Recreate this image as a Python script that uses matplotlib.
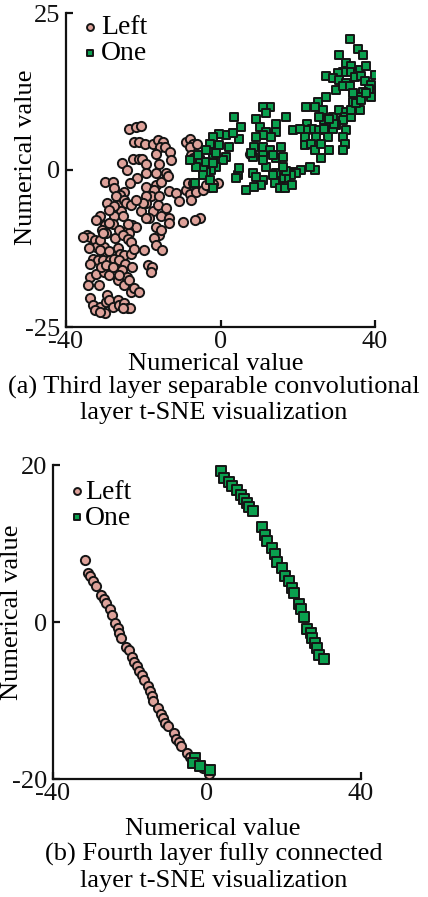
import matplotlib
matplotlib.use("Agg")
import matplotlib.pyplot as plt
import numpy as np

plt.rcParams['font.family'] = ['Liberation Serif', 'DejaVu Serif']
plt.rcParams['mathtext.fontset'] = 'stix'

# ---------------- (a) third layer ----------------
a_left_x = [-23.6, -22.0, -20.6, -22.5, -21.2, -19.6, -17.5, -16.2, -14.8, -15.6, -14.4, -13.0,
            -22.7, -21.2, -20.3, -19.3, -25.5, -24.2, -16.8, -16.0, -12.9, -19.3, -16.7, -14.2,
            -21.7, -23.4, -29.8, -27.9, -27.7, -19.3, -16.7, -15.4, -13.6, -24.9, -26.0, -27.0,
            -13.4, -11.5, -10.8, -17.1, -18.0, -15.8, -8.9, -7.9, -6.3, -7.6,
            -8.9, -7.9, -7.2, -8.0, -6.0, -7.6, -7.2, -8.5, -7.2, -4.6, -2.8, -0.7,
            -5.2, -6.7, -9.8, -29.4, -26.6, -24.9, -24.4, -25.7, -27.5, -27.9, -29.8, -30.8,
            -20.6, -19.3, -17.5, -16.2, -14.1, -15.4, -13.4, -22.9, -21.9, -24.0, -23.6,
            -18.4, -19.3, -16.7, -16.0, -15.4, -17.1, -16.7, -15.2, -13.4,
            -34.6, -33.9, -32.6, -32.2, -34.1, -29.6, -28.8, -27.2, -30.1, -29.6,
            -26.2, -25.3, -24.0, -23.1, -31.3, -28.8, -26.6, -26.0, -24.9, -23.1, -22.3,
            -33.1, -31.8, -30.5, -28.6, -27.5, -26.2, -24.6, -22.9, -25.5, -24.3,
            -19.7, -18.8, -17.7, -18.0, -33.9, -33.7, -34.3, -31.5, -32.2, -30.1, -28.8,
            -26.6, -26.2, -24.9, -23.6, -23.1, -22.3, -21.2,
            -33.9, -33.1, -31.3, -29.6, -29.4, -28.8, -29.8, -27.9, -26.6, -26.2, -24.9,
            -24.0, -23.4, -25.3, -32.6, -31.3, 7.7, -3.7, -2.0, -19.3, -20.1, -23.1, -21.9,
            -27.5, -28.8, -31.3, -32.2, -25.3, -24.0, -31.3, -30.5, -35.7, -30.9, -29.6, -27.9]
a_left_y = [6.5, 6.8, 7.0, 4.5, 4.5, 4.1, 4.1, 4.8, 4.5, 3.7, 3.7, 2.9,
            1.7, 1.7, 1.7, 1.0, 1.1, 0.0, 2.5, 1.0, 1.6, -0.5, -0.5, -0.5,
            -1.3, -2.1, -1.9, -1.9, -2.9, -2.7, -2.4, -1.9, -1.0, -3.5, -4.0, -4.2,
            -3.3, -3.7, -4.9, -3.2, -4.2, -4.2, -3.2, -3.8, -3.5, -4.8,
            4.5, 4.9, 4.1, 3.6, 4.2, 2.4, 1.9, -2.1, -2.0, -3.2, -2.7, -2.1,
            -7.7, -8.0, -8.3, -5.3, -5.6, -4.8, -5.3, -6.6, -7.3, -8.6, -8.8, -9.6,
            -6.6, -5.3, -6.5, -5.6, -6.1, -7.4, -7.6, -8.8, -9.0, -9.6, -10.1,
            -7.7, -7.7, -9.0, -10.4, -9.6, -10.9, -11.9, -12.8, -8.5,
            -10.4, -10.7, -11.1, -12.2, -12.5, -10.1, -8.5, -10.9, -12.2, -13.3,
            -9.6, -10.4, -11.0, -11.4, -12.7, -12.9, -12.4, -13.3, -13.5, -13.3, -12.6,
            -14.1, -14.3, -14.3, -14.3, -14.1, -14.3, -14.9, -15.4, -15.9, -17.0,
            -12.7, -15.1, -15.5, -16.2, -14.9, -17.0, -18.3, -18.3, -16.5, -16.2, -16.7,
            -17.5, -16.7, -18.3, -17.5, -19.4, -18.8, -19.4,
            -20.4, -21.5, -21.8, -21.0, -19.9, -20.7, -22.8, -21.8, -20.7, -21.5, -21.2,
            -22.0, -22.0, -22.0, -22.3, -22.6, 2.5, -2.4, -2.2, -4.2, -5.3, -5.6, -4.8,
            -5.8, -6.4, -7.4, -8.0, -7.4, -8.6, -11.1, -10.1, -10.6, -15.4, -15.1, -15.4]

a_one_x = [33.4, 35.6, 36.9, 30.7,
           32.6, 33.9, 36.0, 37.7, 33.4, 31.6, 30.4, 34.7, 36.5, 39.9, 37.3, 39.0, 41.0, 38.4,
           39.0, 36.9, 35.6, 34.3,
           27.4, 29.1, 30.8, 32.6, 30.0, 31.7, 33.4, 27.4,
           25.3, 22.2, 24.4, 26.5, 29.1, 30.8, 32.6, 36.0, 32.2, 33.9, 31.7, 30.0, 29.1, 32.6,
           31.7, 32.2, 31.7, 26.9, 25.6,
           22.4, 23.7, 22.2, 25.6, 26.9, 27.8, 24.8, 21.8, 21.8, 23.5, 24.4, 26.1, 28.2, 26.1,
           24.4, 23.1, 20.9, 18.7, 20.5,
           18.7, 19.6, 18.3, 17.0, 15.7, 14.4, 17.0, 14.4, 14.4, 16.1, 15.7, 17.0, 14.4, 12.7,
           11.0, 11.8, 9.3, 10.1, 11.8, 14.4, 13.1, 11.0, 9.3, 8.8, 11.0, 12.7, 11.0, 13.6,
           16.1, 11.8, 11.0, 8.4, 8.0,
           11.0, 10.5, 13.6, 14.0, 15.3, 16.6, 18.6, 8.4, 9.2, 8.8, 6.6, 4.5, 4.1, 4.9,
           3.6, 5.4, 4.9, 2.3, 1.5, 3.2, -0.3, -2.0, -2.8, -0.3, 1.5, 0.6, -1.1, -2.4, -3.7,
           -4.6, -5.4, -6.3, -4.6, -2.8, -2.0, -6.7, -5.8, -3.7, -2.0, -1.1, -3.7, -2.0,
           -8.0, 29.5, 28.2, 33.9, 35.2, 34.3, 36.5, 37.7]
a_one_y = [20.9, 19.2, 18.3, 18.3,
           17.0, 16.5, 15.9, 16.6, 15.6, 15.6, 15.4, 14.8, 15.0, 15.2, 14.1, 13.6, 12.6, 12.9,
           11.7, 12.4, 11.7, 10.9,
           14.9, 14.6, 14.3, 13.8, 12.7, 13.3, 13.3, 11.7,
           10.9, 10.1, 10.1, 9.6, 8.5, 9.6, 9.3, 9.6, 8.5, 8.5, 8.0, 7.2, 6.6, 6.4,
           5.3, 4.2, 3.2, 8.0, 8.5,
           7.4, 6.6, 6.4, 6.4, 6.6, 5.3, 5.3, 5.3, 4.0, 4.2, 3.2, 4.2, 3.2, 1.9,
           0.0, 0.5, 0.0, 6.4, 6.6,
           -0.3, -0.5, -0.8, -1.3, -1.3, -1.9, -0.1, -0.5, 1.9, 2.1, 3.7, 8.5, 7.4, 10.1,
           10.1, 9.0, 8.2, 6.9, 6.1, 6.1, 5.3, 5.6, 5.3, 3.7, 3.7, 3.2, 2.4, 2.4,
           0.5, 0.5, 1.6, 2.1, 2.7,
           -1.6, -2.4, -0.8, -2.1, -2.9, -2.9, -2.4, -0.5, -1.1, -2.7, -3.2, -0.8, -1.3, 0.3,
           8.5, 6.9, 5.0, 3.7, 5.6, 5.9, 5.8, 5.3, 4.2, 4.0, 2.1, 1.6, 0.5, 0.0, -0.3,
           0.3, 1.6, 0.5, -0.8, -1.6, -2.9, -2.1, 2.4, 3.2, 1.9, 2.7, 1.3, 1.1,
           1.6, 7.4, 8.2, 9.6, 10.6, 12.2, 11.1, 12.2]

# ---------------- (b) fourth layer ----------------
b_left_x = [-31.8, -31.0, -30.4, -29.7, -28.8, -27.5, -26.8, -26.2, -25.3, -24.7, -23.8, -23.2,
            -22.8, -22.3, -21.0, -20.2, -19.5, -18.9, -18.3, -17.6, -16.9, -16.3, -15.4, -14.8,
            -14.3, -13.9, -12.8, -11.9, -11.5, -10.8, -10.2, -8.7, -8.0, -7.4, -6.7, -5.3,
            -4.4, -3.7, -2.2, -1.0, 0.4, 0.6]
b_left_y = [7.9, 6.3, 5.8, 5.2, 4.6, 3.5, 2.9, 2.4, 1.7, 0.9, -0.1, -0.8,
            -1.4, -2.0, -3.2, -3.6, -4.5, -5.1, -5.6, -6.3, -6.8, -7.4, -8.2, -8.8,
            -9.4, -10.0, -10.9, -11.7, -12.2, -12.9, -13.2, -14.1, -14.9, -15.3, -15.8, -16.7,
            -17.2, -17.6, -18.3, -18.6, -19.2, -19.3]
b_one_x = [3.6, 4.5, 5.8, 6.5, 7.7, 8.8, 9.7, 10.3, 11.0, 11.9, 14.4, 15.1, 15.6, 16.9, 17.7,
           18.3, 19.4, 20.3, 21.2, 22.0, 22.7, 23.8, 24.4, 25.3, 26.1, 27.0, 27.4, 28.0, 28.5,
           29.2, 30.4, -3.0, -3.7, -1.7, 0.9]
b_one_y = [19.2, 18.3, 17.8, 17.3, 16.8, 16.2, 15.7, 15.1, 14.6, 14.1, 12.1, 11.1, 10.3, 9.4, 8.6,
           7.7, 6.9, 5.8, 5.2, 4.3, 3.7, 2.3, 1.6, 0.6, -0.9, -1.4, -2.0, -2.7, -3.3,
           -4.2, -4.7, -17.3, -17.9, -18.4, -18.9]

series_labels = ['Left', 'One']
a_yticks = [-25, 0, 25]
b_yticks = [-20, 0, 20]
xticks = [-40, 0, 40]
captions_a = ['(a) Third layer separable convolutional', 'layer t-SNE visualization']
captions_b = ['(b) Fourth layer fully connected', 'layer t-SNE visualization']

pink = '#dea29a'
green = '#0aa04e'
edge = '#151515'
FS = 19

fig = plt.figure(figsize=(4.28, 8.97), dpi=100)
W, H = 428.0, 897.0

def make_ax(l, r, t, b):
    return fig.add_axes([l / W, 1 - b / H, (r - l) / W, (b - t) / H])

ax1 = make_ax(66, 375, 13, 327)
ax2 = make_ax(53, 361, 465, 779)

def style(ax, ylim, yticks, xlab_pos, ylab_pos):
    ax.set_xlim(-40, 40)
    ax.set_ylim(*ylim)
    ax.set_xticks(xticks)
    ax.set_yticks(yticks)
    ax.set_xticklabels([str(t) for t in xticks])
    ax.set_yticklabels([str(t) for t in yticks])
    for s in ['top', 'right']:
        ax.spines[s].set_visible(False)
    for s in ['left', 'bottom']:
        ax.spines[s].set_linewidth(1.6)
        ax.spines[s].set_color('#111111')
    ax.tick_params(direction='in', length=5, width=1.6, labelsize=FS, colors='#111111')
    ax.tick_params(axis='y', pad=4)
    ax.tick_params(axis='x', pad=3)
    ax.set_xlabel('Numerical value', fontsize=FS)
    ax.set_ylabel('Numerical value', fontsize=FS)
    ax.xaxis.label.set_va('center')
    ax.yaxis.label.set_va('center')
    ax.xaxis.set_label_coords(*xlab_pos)
    ax.yaxis.set_label_coords(*ylab_pos)

ms = 44
lw = 1.4
ax1.scatter(a_left_x, a_left_y, s=ms, marker='o', c=pink, edgecolors=edge, linewidths=lw,
            label=series_labels[0], zorder=3)
ax1.scatter(a_one_x, a_one_y, s=ms * 0.95, marker='s', c=green, edgecolors=edge, linewidths=lw,
            label=series_labels[1], zorder=3)
style(ax1, (-25, 25), a_yticks, (0.485, -0.119), (-0.13, 0.541))
ax1.legend(loc='upper left', bbox_to_anchor=(0.01, 1.03), frameon=False, fontsize=FS + 1,
           handletextpad=0.05, labelspacing=0.02, handlelength=0.7, borderaxespad=0,
           markerscale=0.75)

ax2.scatter(b_left_x, b_left_y, s=ms, marker='o', c=pink, edgecolors=edge, linewidths=lw,
            label=series_labels[0], zorder=3)
ax2.scatter(b_one_x, b_one_y, s=ms, marker='s', c=green, edgecolors=edge, linewidths=lw,
            label=series_labels[1], zorder=3)
style(ax2, (-20, 20), b_yticks, (0.52, -0.158), (-0.133, 0.532))
ax2.legend(loc='upper left', bbox_to_anchor=(0.01, 0.99), frameon=False, fontsize=FS + 1,
           handletextpad=-0.05, labelspacing=0.02, handlelength=0.7, borderaxespad=0,
           markerscale=0.75)

fig.text(0.5, 1 - 387 / H, captions_a[0], ha='center', va='center', fontsize=FS)
fig.text(0.5, 1 - 413 / H, captions_a[1], ha='center', va='center', fontsize=FS)
fig.text(0.5, 1 - 854 / H, captions_b[0], ha='center', va='center', fontsize=FS)
fig.text(0.5, 1 - 881 / H, captions_b[1], ha='center', va='center', fontsize=FS)

fig.savefig('out.png', dpi=100)
